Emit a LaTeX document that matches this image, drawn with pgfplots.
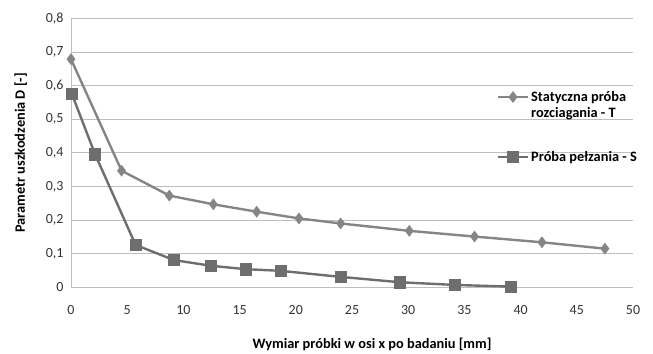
\documentclass[border=0pt]{standalone}
\usepackage{pgfplots}
\pgfplotsset{compat=1.18}
\usepackage{fontspec}
\setmainfont{Carlito}
\definecolor{lineT}{HTML}{858585}
\definecolor{lineS}{HTML}{6E6E6E}
\definecolor{gridc}{HTML}{BEBEBE}
\begin{document}
\begin{tikzpicture}[x=1bp,y=1bp]
\begin{axis}[
  at={(0,0)}, anchor=south west,
  scale only axis,
  width=562bp, height=268.8bp,
  xmin=0, xmax=50, ymin=0, ymax=0.8,
  xtick={0,5,...,50},
  ytick={0,0.1,...,0.8},
  ymajorgrids,
  grid style={gridc, line width=0.9bp},
  axis x line*=bottom,
  axis y line*=left,
  axis line style={gridc, line width=0.9bp},
  x axis line style={-},
  y axis line style={-},
  tick style={draw=none},
  /pgf/number format/assume math mode=true,
  /pgf/number format/use comma,
  /pgf/number format/fixed,
  /pgf/number format/precision=1,
  yticklabel style={font=\fontsize{14}{16}\selectfont, text=black!80, xshift=-4bp},
  yticklabel={\ifdim\tick pt=0pt 0\else\pgfmathprintnumber[fixed zerofill,precision=1,use comma]{\tick}\fi},
  xticklabel style={font=\fontsize{14}{16}\selectfont, text=black!80, yshift=-15bp},
  xlabel={\textbf{Wymiar próbki w osi x po badaniu [mm]}},
  ylabel={\textbf{Parametr uszkodzenia D [-]}},
  xlabel style={font=\fontsize{14.4}{16}\selectfont, yshift=-16bp, xshift=20bp},
  ylabel style={font=\fontsize{14.4}{16}\selectfont, yshift=12bp},
  legend style={at={(axis cs:37.6,0.597)}, anchor=north west, draw=none, fill=none,
    font=\bfseries\fontsize{14.4}{15.5}\selectfont, row sep=44bp},
  legend cell align=left,
  legend image code/.code={\draw[#1, mark repeat=2, mark phase=2] plot coordinates {(0bp,0bp) (15bp,0bp) (30bp,0bp)};},
]
\addplot[color=lineT, line width=2.4bp, mark=diamond*, mark size=5.5bp, mark options={fill=lineT, draw=lineT, line width=0.5bp}]
  coordinates {
  (0,0.679) (4.5,0.347) (8.75,0.273) (12.66,0.247) (16.52,0.225) (20.28,0.205)
  (23.99,0.190) (30.1,0.168) (35.9,0.151) (41.9,0.134) (47.5,0.115)
  };
\addlegendentry{\begin{tabular}[t]{@{}l@{}}Statyczna próba\\ rozciagania - T\end{tabular}}
\addplot[color=lineS, line width=2.4bp, mark=square*, mark size=5.6bp, mark options={fill=lineS, draw=lineS, line width=0.5bp}]
  coordinates {
  (0.06,0.577) (2.14,0.396) (5.75,0.126) (9.16,0.081) (12.46,0.064) (15.54,0.054)
  (18.65,0.049) (23.99,0.031) (29.27,0.015) (34.16,0.007) (39.1,0.002)
  };
\addlegendentry{Próba pełzania - S}
\end{axis}
\useasboundingbox (-71bp,-64.7bp) rectangle (582bp,287.3bp);
\end{tikzpicture}
\end{document}
